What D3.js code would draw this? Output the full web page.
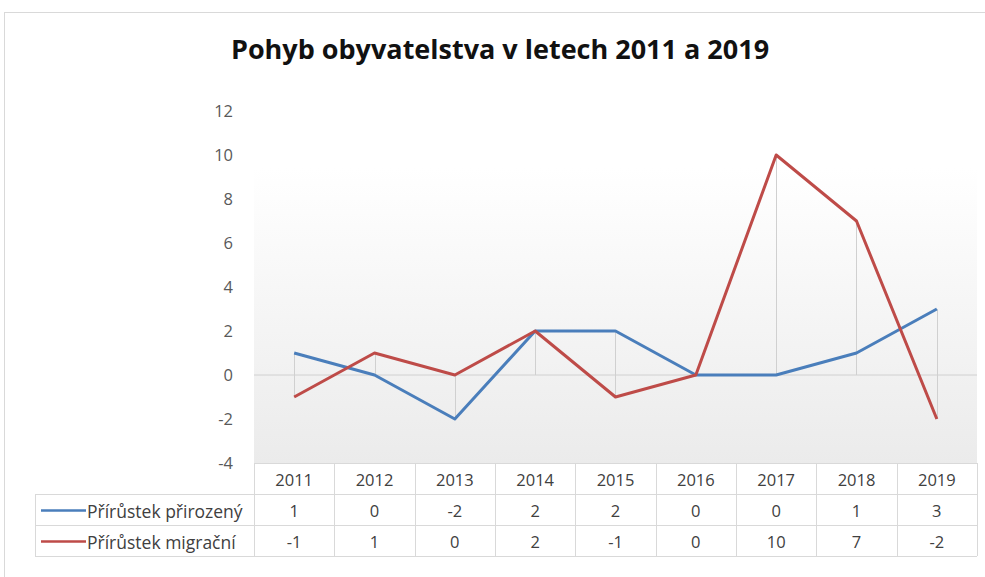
<!DOCTYPE html>
<html lang="cs">
<head>
<meta charset="UTF-8">
<title>Pohyb obyvatelstva</title>
<script src="https://cdn.jsdelivr.net/npm/d3@7"></script>
<style>
  body { margin: 0; background: #fff; }
  svg { display: block; font-family: "Open Sans", "Noto Sans", sans-serif; }
</style>
</head>
<body>
<div id="chart"></div>
<script>
const years = ["2011", "2012", "2013", "2014", "2015", "2016", "2017", "2018", "2019"]
const prirozeny = [1, 0, -2, 2, 2, 0, 0, 1, 3]
const migracni = [-1, 1, 0, 2, -1, 0, 10, 7, -2]
const seriesNames = ["Přírůstek přirozený", "Přírůstek migrační"]
const yTicks = [-4, -2, 0, 2, 4, 6, 8, 10, 12]

const width = 985, height = 577
const plot = {left: 254, right: 977, top: 111, bottom: 463}
const rowH = 31
const colors = ["#4a7ebb", "#be4b48"]

const svg = d3.select("#chart").append("svg")
    .attr("width", width).attr("height", height)

// chart frame
svg.append("rect")
    .attr("x", 4.5).attr("y", 12.5).attr("width", 1000).attr("height", 600)
    .attr("fill", "#fff").attr("stroke", "#d9d9d9")

const defs = svg.append("defs")
const grad = defs.append("linearGradient").attr("id", "bg")
    .attr("x1", 0).attr("y1", 0).attr("x2", 0).attr("y2", 1)
grad.append("stop").attr("offset", "0%").attr("stop-color", "#ffffff")
grad.append("stop").attr("offset", "100%").attr("stop-color", "#ebebeb")

svg.append("text")
    .attr("x", 500).attr("y", 59)
    .attr("text-anchor", "middle")
    .attr("font-size", 27).attr("font-weight", "bold")
    .attr("fill", "#111")
    .text("Pohyb obyvatelstva v letech 2011 a 2019")

const x = d3.scaleBand().domain(years).range([plot.left, plot.right])
const y = d3.scaleLinear().domain([-4, 12]).range([plot.bottom, plot.top])

svg.append("rect")
    .attr("x", plot.left).attr("y", 168)
    .attr("width", plot.right - plot.left).attr("height", plot.bottom - 168)
    .attr("fill", "url(#bg)")

// y axis labels
const yAxis = d3.axisLeft(y).tickValues(yTicks).tickSize(0).tickPadding(0)
    .tickFormat(d => String(d))
const gy = svg.append("g").attr("transform", `translate(233,0)`).call(yAxis)
gy.select(".domain").remove()
gy.selectAll("text").attr("font-size", 16.5).attr("fill", "#595959")
    .attr("font-family", "Open Sans, sans-serif")

// zero line
svg.append("line")
    .attr("x1", plot.left).attr("x2", plot.right)
    .attr("y1", y(0)).attr("y2", y(0))
    .attr("stroke", "#d0d0d0").attr("stroke-width", 1)

// drop lines
const cx = d => x(d) + x.bandwidth() / 2
svg.append("g").selectAll("line").data(years).enter().append("line")
    .attr("x1", d => Math.round(cx(d)) + 0.5).attr("x2", d => Math.round(cx(d)) + 0.5)
    .attr("y1", (d, i) => y(Math.max(0, prirozeny[i], migracni[i])))
    .attr("y2", (d, i) => y(Math.min(0, prirozeny[i], migracni[i])))
    .attr("stroke", "#d0d0d0").attr("stroke-width", 1)

// lines
const line = d3.line().x((d, i) => cx(years[i])).y(d => y(d))
;[prirozeny, migracni].forEach((s, k) => {
    svg.append("path")
        .attr("d", line(s))
        .attr("fill", "none")
        .attr("stroke", colors[k])
        .attr("stroke-width", 3)
        .attr("stroke-linejoin", "round")
})

// data table
const tableTop = plot.bottom
const tableLeft = 35
const grid = svg.append("g").attr("stroke", "#d9d9d9").attr("stroke-width", 1)
// horizontal lines
;[0, 1, 2, 3].forEach(r => {
    grid.append("line")
        .attr("x1", r === 0 ? plot.left : tableLeft).attr("x2", plot.right)
        .attr("y1", tableTop + r * rowH + 0.5).attr("y2", tableTop + r * rowH + 0.5)
})
// vertical lines
years.concat(["end"]).forEach((d, i) => {
    const xx = Math.round(plot.left + i * x.bandwidth()) + 0.5
    grid.append("line").attr("x1", xx).attr("x2", xx)
        .attr("y1", tableTop).attr("y2", tableTop + 3 * rowH)
})
grid.append("line").attr("x1", tableLeft + 0.5).attr("x2", tableLeft + 0.5)
    .attr("y1", tableTop + rowH).attr("y2", tableTop + 3 * rowH)

const cellText = (xx, yy, t, anchor) => svg.append("text")
    .attr("x", xx).attr("y", yy).attr("text-anchor", anchor || "middle")
    .attr("dominant-baseline", "central")
    .attr("font-size", 16.5).attr("fill", "#404040").text(t)

years.forEach(d => cellText(cx(d), tableTop + rowH / 2 + 1, d))
;[prirozeny, migracni].forEach((s, k) => {
    const ry = tableTop + (k + 1.5) * rowH + 1
    s.forEach((v, i) => cellText(cx(years[i]), ry, String(v)))
    svg.append("line")
        .attr("x1", 41).attr("x2", 86).attr("y1", ry).attr("y2", ry)
        .attr("stroke", colors[k]).attr("stroke-width", 2.5)
    cellText(87, ry, seriesNames[k], "start").attr("font-size", 17.5)
})
</script>
</body>
</html>
